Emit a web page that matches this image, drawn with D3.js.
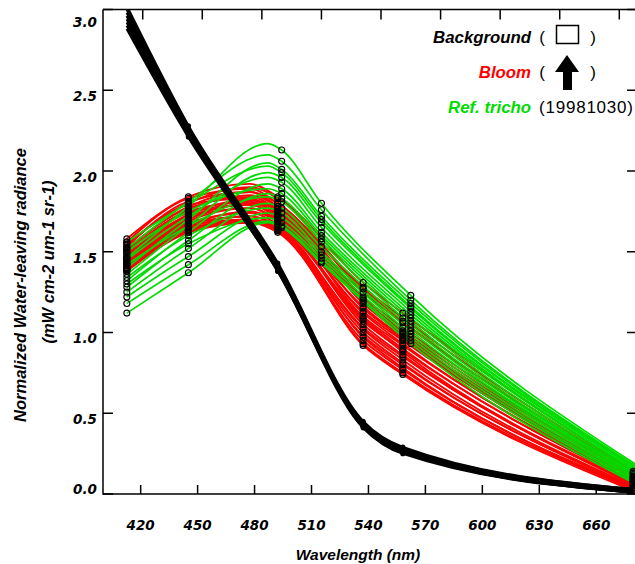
<!DOCTYPE html>
<html><head><meta charset="utf-8">
<script src="https://cdn.jsdelivr.net/npm/d3@7"></script>
<style>body{margin:0;background:#fff}svg{display:block}</style>
</head><body>
<svg id="c" width="635" height="564"></svg>
<script>
// ---------- data ----------
// line vertices (index 2 is the visible peak of each spectrum, no marker drawn there)
const bandsBloom  = [412, 443, 474, 488, 531, 551, 667];
const bandsTricho = [412, 443, 483, 490, 510, 555, 670];
const bandsBackground = [412, 443, 488, 531, 551, 667];
const peakIndex = 2;
const xTicks = [420, 450, 480, 510, 540, 570, 600, 630, 660];
const yTicks = [0.0, 0.5, 1.0, 1.5, 2.0, 2.5, 3.0];

const bloom = [
 [1.58,1.84,1.92,1.84,1.31,1.12,0.14],
 [1.56,1.83,1.89,1.80,1.28,1.09,0.13],
 [1.55,1.80,1.90,1.83,1.25,1.06,0.12],
 [1.53,1.81,1.87,1.78,1.27,1.07,0.13],
 [1.52,1.78,1.87,1.80,1.22,1.03,0.11],
 [1.51,1.77,1.84,1.76,1.20,1.01,0.11],
 [1.50,1.76,1.85,1.78,1.18,0.99,0.10],
 [1.49,1.75,1.81,1.73,1.19,0.98,0.10],
 [1.48,1.73,1.82,1.75,1.15,0.96,0.09],
 [1.47,1.74,1.79,1.71,1.13,0.95,0.09],
 [1.46,1.72,1.79,1.72,1.12,0.93,0.08],
 [1.46,1.70,1.80,1.74,1.10,0.92,0.08],
 [1.45,1.71,1.77,1.69,1.09,0.90,0.08],
 [1.44,1.69,1.77,1.70,1.07,0.89,0.07],
 [1.43,1.68,1.74,1.67,1.08,0.88,0.07],
 [1.43,1.66,1.75,1.69,1.05,0.86,0.06],
 [1.42,1.67,1.72,1.65,1.03,0.85,0.06],
 [1.41,1.65,1.72,1.66,1.02,0.83,0.05],
 [1.40,1.64,1.70,1.64,1.00,0.81,0.05],
 [1.40,1.66,1.70,1.63,0.98,0.80,0.04],
 [1.39,1.63,1.70,1.65,0.97,0.78,0.04],
 [1.39,1.62,1.68,1.62,0.95,0.77,0.03],
 [1.38,1.64,1.69,1.63,0.93,0.75,0.03],
 [1.38,1.62,1.69,1.64,0.92,0.74,0.02],
 [1.54,1.79,1.83,1.72,1.16,0.97,0.09],
 [1.42,1.70,1.82,1.77,1.21,1.00,0.10]
];

const tricho = [
 [1.46,1.78,2.17,2.13,1.80,1.23,0.17],
 [1.52,1.81,2.10,2.06,1.76,1.20,0.16],
 [1.40,1.70,2.05,2.01,1.72,1.18,0.15],
 [1.56,1.80,2.03,1.99,1.70,1.16,0.15],
 [1.36,1.66,1.99,1.96,1.68,1.15,0.14],
 [1.45,1.72,1.96,1.93,1.65,1.13,0.13],
 [1.32,1.62,1.92,1.89,1.62,1.11,0.13],
 [1.50,1.75,1.89,1.86,1.60,1.09,0.12],
 [1.28,1.57,1.86,1.83,1.58,1.07,0.11],
 [1.42,1.66,1.84,1.81,1.56,1.05,0.11],
 [1.25,1.52,1.80,1.77,1.53,1.03,0.10],
 [1.34,1.60,1.77,1.74,1.50,1.01,0.09],
 [1.22,1.47,1.74,1.71,1.48,0.99,0.08],
 [1.30,1.55,1.71,1.68,1.46,0.97,0.07],
 [1.18,1.42,1.69,1.66,1.44,0.95,0.06],
 [1.12,1.37,1.68,1.65,1.43,0.93,0.05]
];

const background = [
 [3.02,2.28,1.43,0.45,0.29,0.03],
 [3.00,2.27,1.42,0.44,0.28,0.03],
 [2.98,2.26,1.41,0.44,0.28,0.02],
 [2.96,2.25,1.41,0.43,0.27,0.02],
 [2.94,2.24,1.40,0.43,0.27,0.02],
 [2.92,2.23,1.39,0.42,0.26,0.01],
 [2.90,2.22,1.38,0.42,0.26,0.01],
 [2.88,2.21,1.38,0.41,0.25,0.01]
];

// ---------- drawing ----------
const svg = d3.select("#c");
const x = d3.scaleLinear().domain([400, 680]).range([103, 659]);            // data / top axis
const xAxisScale = d3.scaleLinear().domain([400, 680]).range([102.7, 634.2]); // labelled bottom axis
const y = d3.scaleLinear().domain([0, 3]).range([494, 9.5]);

const RED = "#ff0000", GREEN = "#00dc00";
const tickFont = "'DejaVu Sans', sans-serif";
const titleFont = "'Liberation Sans', Arial, Helvetica, sans-serif";

svg.append("defs").append("clipPath").attr("id", "clip").append("rect")
  .attr("x", 103).attr("y", 9.5).attr("width", 540).attr("height", 485);

const plot = svg.append("g").attr("clip-path", "url(#clip)");

function lineFor(bands) {
  return d3.line().x((d, i) => x(bands[i])).y(d => y(d)).curve(d3.curveMonotoneX);
}

plot.append("g").selectAll("path").data(bloom).join("path")
  .attr("d", lineFor(bandsBloom)).attr("fill", "none")
  .attr("stroke", RED).attr("stroke-width", 1.9);

plot.append("g").selectAll("path").data(tricho).join("path")
  .attr("d", lineFor(bandsTricho)).attr("fill", "none")
  .attr("stroke", GREEN).attr("stroke-width", 1.7);

function circles(series, bands) {
  const pts = [];
  series.forEach(s => s.forEach((v, i) => { if (i !== peakIndex) pts.push([bands[i], v]); }));
  plot.append("g").selectAll("circle").data(pts).join("circle")
    .attr("cx", d => x(d[0])).attr("cy", d => y(d[1])).attr("r", 3)
    .attr("fill", "none").attr("stroke", "#000").attr("stroke-width", 1.1);
}
circles(bloom, bandsBloom);
circles(tricho, bandsTricho);

plot.append("g").selectAll("path").data(background).join("path")
  .attr("d", lineFor(bandsBackground)).attr("fill", "none")
  .attr("stroke", "#000").attr("stroke-width", 2.6);
const bpts = [];
background.forEach(s => s.forEach((v, i) => { if (i > 0 && i < 5) bpts.push([bandsBackground[i], v]); }));
plot.append("g").selectAll("circle").data(bpts).join("circle")
  .attr("cx", d => x(d[0])).attr("cy", d => y(d[1])).attr("r", 2.6).attr("fill", "#000");

// ---------- frame & axes ----------
const axG = svg.append("g").attr("stroke", "#000").attr("stroke-width", 1.5).attr("fill", "none");
axG.append("path").attr("d", `M103,${y(3)}H640M103,${y(3)}V${y(0)}H640M636,${y(3)}V${y(0)}`);
axG.selectAll(".lt").data(yTicks).join("line").attr("class", "lt")
  .attr("x1", 103).attr("x2", 113).attr("y1", d => y(d)).attr("y2", d => y(d));
axG.selectAll(".rt").data(yTicks).join("line").attr("class", "rt")
  .attr("x1", 627).attr("x2", 636).attr("y1", d => y(d)).attr("y2", d => y(d));
axG.selectAll(".bt").data(xTicks).join("line").attr("class", "bt")
  .attr("x1", d => xAxisScale(d)).attr("x2", d => xAxisScale(d)).attr("y1", y(0)).attr("y2", y(0) - 9);
axG.selectAll(".tt").data(xTicks).join("line").attr("class", "tt")
  .attr("x1", d => x(d)).attr("x2", d => x(d)).attr("y1", y(3)).attr("y2", y(3) + 10);

svg.append("g").selectAll("text").data(yTicks).join("text")
  .attr("x", 97).attr("y", d => Math.max(22, Math.min(489, y(d) + 6)))
  .attr("dy", "0.36em").attr("text-anchor", "end")
  .attr("font-family", tickFont).attr("font-weight", "bold").attr("font-style", "oblique")
  .attr("font-size", 13.5).attr("fill", "#000")
  .text(d => d.toFixed(1));

svg.append("g").selectAll("text").data(xTicks).join("text")
  .attr("x", d => xAxisScale(d)).attr("y", 525).attr("dy", "0.36em").attr("text-anchor", "middle")
  .attr("font-family", tickFont).attr("font-weight", "bold").attr("font-style", "oblique")
  .attr("font-size", 13.5).attr("fill", "#000")
  .text(d => d);

svg.append("text").attr("x", 358).attr("y", 554).attr("dy", "0.36em").attr("text-anchor", "middle")
  .attr("font-family", titleFont).attr("font-weight", "bold").attr("font-style", "italic")
  .attr("font-size", 15.5).text("Wavelength (nm)");
svg.append("text").attr("transform", "translate(20,285) rotate(-90)").attr("dy", "0.36em")
  .attr("text-anchor", "middle")
  .attr("font-family", titleFont).attr("font-weight", "bold").attr("font-style", "italic")
  .attr("font-size", 16.5).text("Normalized Water-leaving radiance");
svg.append("text").attr("transform", "translate(48,262) rotate(-90)").attr("dy", "0.36em")
  .attr("text-anchor", "middle")
  .attr("font-family", titleFont).attr("font-weight", "bold").attr("font-style", "italic")
  .attr("font-size", 16.5).text("(mW cm-2 um-1 sr-1)");

// ---------- legend ----------
const leg = svg.append("g").attr("font-family", titleFont);
const legItems = [
  {label: "Background", color: "#000", y: 37},
  {label: "Bloom", color: RED, y: 72},
  {label: "Ref. tricho", color: GREEN, y: 107}
];
leg.selectAll(".lab").data(legItems).join("text").attr("class", "lab")
  .attr("x", 531).attr("y", d => d.y).attr("dy", "0.36em").attr("text-anchor", "end")
  .attr("font-weight", "bold").attr("font-style", "italic").attr("font-size", 16.8)
  .attr("fill", d => d.color).text(d => d.label);
leg.selectAll(".po").data(legItems.slice(0, 2)).join("text").attr("class", "po")
  .attr("x", 542).attr("y", d => d.y).attr("dy", "0.36em").attr("text-anchor", "middle")
  .attr("font-size", 17).text("(");
leg.selectAll(".pc").data(legItems.slice(0, 2)).join("text").attr("class", "pc")
  .attr("x", 593).attr("y", d => d.y).attr("dy", "0.36em").attr("text-anchor", "middle")
  .attr("font-size", 17).text(")");
leg.append("rect").attr("x", 556.5).attr("y", 25.5).attr("width", 22).attr("height", 18)
  .attr("fill", "none").attr("stroke", "#000").attr("stroke-width", 1.5);
leg.append("path").attr("d", "M567,55L579,72H572V90H563V72H555Z").attr("fill", "#000");
leg.append("text").attr("x", 539).attr("y", 107).attr("dy", "0.36em")
  .attr("font-size", 17).attr("textLength", 94).text("(19981030)");
</script>
</body></html>
